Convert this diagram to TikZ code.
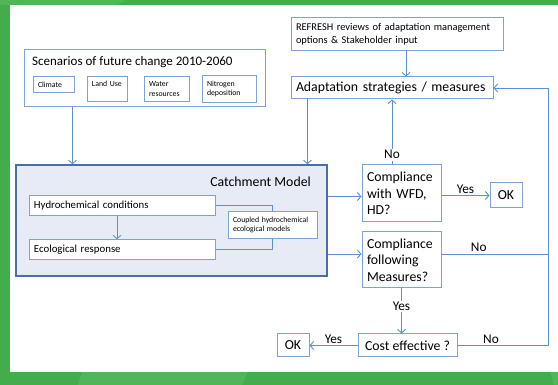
\documentclass[tikz,border=0pt]{standalone}
\usepackage{fontspec}
\setmainfont{Carlito}
\usetikzlibrary{arrows.meta,positioning,calc}

\definecolor{framegreen}{RGB}{66,173,74}
\definecolor{framelight}{RGB}{82,182,88}
\definecolor{linkblue}{RGB}{94,144,208}
\definecolor{boxblue}{RGB}{126,162,210}
\definecolor{modelblue}{RGB}{76,110,162}
\definecolor{modelfill}{RGB}{231,235,246}

\begin{document}
\begin{tikzpicture}[
  x=1pt, y=-1pt,
  box/.style={draw=boxblue, line width=1pt, fill=white, inner sep=5pt, align=left,
    font=\fontsize{13.8}{16.7}\selectfont},
  subbox/.style={draw=boxblue, line width=1pt, fill=white, inner sep=5pt, align=left,
    font=\fontsize{7.8}{9.6}\selectfont},
  midbox/.style={draw=boxblue, line width=1pt, fill=white, inner sep=5pt, align=left,
    font=\fontsize{10.8}{12}\selectfont},
  lbl/.style={font=\fontsize{13.3}{14}\selectfont, inner sep=1.5pt},
  link/.style={draw=linkblue, line width=0.9pt},
  >={Straight Barb[length=3.5pt,width=8pt]}
]
  % Frame
  \useasboundingbox (0,0) rectangle (558,385);
  \fill[framegreen] (0,0) rectangle (558,385);
  \fill[framelight] (0,0) -- (125,0) -- (118,5) -- (0,5) -- cycle;
  \fill[framelight] (82,372) -- (248,372) -- (242,385) -- (78,385) -- cycle;
  \fill[framelight] (550,372) -- (558,372) -- (558,385) -- (554,385) -- cycle;
  \fill[white] (10,5) rectangle (558,372);

  % Scenarios
  \node[box, minimum width=241pt, minimum height=57pt] (scen) at (144.5,78.5) {};
  \node[anchor=west, inner sep=0pt, font=\fontsize{13}{15}\selectfont] (scentitle) at (32,62)
    {Scenarios of future change 2010-2060};
  \node[subbox, text width=31pt, minimum height=15pt] (climate) at (53.5,84.5) {Climate};
  \node[subbox, text width=30pt, minimum height=24pt] (landuse) at (107,89) {Land Use\\\mbox{}};
  \node[subbox, text width=35pt, minimum height=24pt] (water) at (166.5,89) {Water\\resources};
  \node[subbox, text width=44pt, minimum height=24pt] (nitro) at (229,89) {Nitrogen\\deposition};

  % Management side
  \node[box, text width=202pt, minimum height=33pt, font=\fontsize{10.4}{13}\selectfont] (refresh) at (397,34.5)
    {REFRESH reviews of adaptation management\\options \& Stakeholder input};
  \node[box, text width=192pt, minimum height=22pt] (adapt) at (392,88) {Adaptation strategies / measures};

  % Catchment model
  \node[draw=modelblue, line width=1.6pt, fill=modelfill, minimum width=311pt, minimum height=111pt] (catch) at (171.5,220.5) {};
  \node[anchor=east, inner sep=0pt, font=\fontsize{13.8}{15}\selectfont] (catchtitle) at (311,182) {Catchment Model};
  \node[midbox, text width=176pt, minimum height=17pt] (hydro) at (122,205.5) {Hydrochemical conditions};
  \node[midbox, text width=176pt, minimum height=19pt] (eco) at (122,249.5) {Ecological response};
  \node[subbox, text width=79pt, minimum height=26pt] (coupled) at (272.5,225)
    {Coupled hydrochemical\\ecological models};

  % Decisions
  \node[box, text width=69pt, minimum height=57pt] (wfd) at (401.5,193.5) {Compliance\\with WFD,\\HD?};
  \node[box, align=center, minimum width=32pt, minimum height=25pt, inner sep=2pt] (okwfd) at (506,195.5) {OK};
  \node[box, text width=69pt, minimum height=56pt] (cfm) at (401.5,260) {Compliance\\following\\Measures?};
  \node[box, align=center, minimum width=99pt, minimum height=23pt, inner sep=2pt] (cost) at (407.5,345.5) {Cost effective ?};
  \node[box, align=center, minimum width=32pt, minimum height=23pt, inner sep=2pt] (okcost) at (293,345.5) {OK};
  \coordinate (rtrail) at (548,88);

  % Arrows
  \draw[link, ->] ([xshift=49pt]scen.south west) -- ([xshift=49pt]scen.south west |- catch.north);
  \draw[link, ->] ([xshift=9pt]refresh.south) -- ([xshift=9pt]refresh.south |- adapt.north);
  \draw[link, ->] ([xshift=17pt]adapt.south west) -- ([xshift=17pt]adapt.south west |- catch.north);
  \draw[link, ->] ([xshift=-5pt]hydro.south) -- ([xshift=-5pt]hydro.south |- eco.north);
  \draw[link] (hydro.east) -| (coupled.north);
  \draw[link] (eco.east) -| (coupled.south);
  \draw[link, ->] ([yshift=-3pt]catch.east |- wfd.west) -- ([yshift=-3pt]wfd.west);
  \draw[link, ->] ([yshift=6pt]catch.east |- cfm.west) -- ([yshift=6pt]cfm.west);
  \draw[link, ->] (wfd.north -| adapt.south) -- node[lbl, fill=white, pos=0.15] {No} (adapt.south);
  \draw[link, ->] (wfd.east |- okwfd.west) -- node[lbl, above] {Yes} (okwfd.west);
  \draw[link] ([yshift=6pt]cfm.east) -- node[lbl, above, pos=0.35] {No} ([yshift=6pt]cfm.east -| rtrail);
  \draw[link, ->] (cfm.south) -- node[lbl, fill=white, pos=0.4] {Yes} (cfm.south |- cost.north);
  \draw[link, ->] (cost.west) -- node[lbl, above] {Yes} (okcost.east);
  \draw[link, ->] (cost.east) -- node[lbl, above, pos=0.37] {No} (cost.east -| rtrail) |- (adapt.east);
\end{tikzpicture}
\end{document}
